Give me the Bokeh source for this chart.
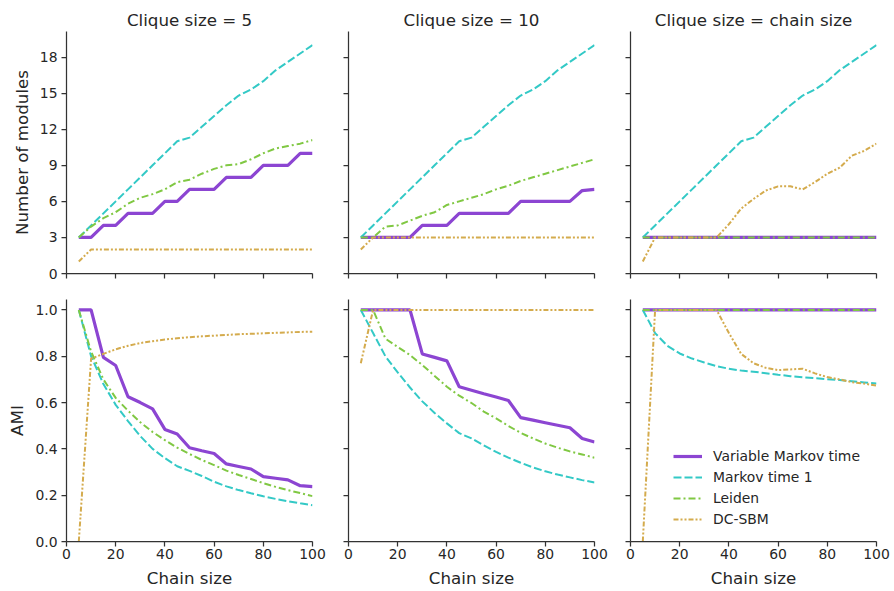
from bokeh.plotting import figure
from bokeh.layouts import column, row
from bokeh.models import Range1d, FixedTicker, PrintfTickFormatter, Legend, LegendItem
from bokeh.embed import file_html
from bokeh.resources import INLINE

# ---------------- data ----------------
chain_size = [5, 10, 15, 20, 25, 30, 35, 40, 45, 50, 55, 60, 65, 70, 75, 80, 85, 90, 95, 100]

titles = ["Clique size = 5", "Clique size = 10", "Clique size = chain size"]
series_names = ["Variable Markov time", "Markov time 1", "Leiden", "DC-SBM"]

# Number of modules
vmt_mod_5 = [3, 3, 4, 4, 5, 5, 5, 6, 6, 7, 7, 7, 8, 8, 8, 9, 9, 9, 10, 10]
mt1_mod_5 = [3, 4, 5, 6, 7, 8, 9, 10, 11, 11.3, 12.2, 13.1, 14, 14.8, 15.3, 16, 16.9, 17.6, 18.3, 19]
leiden_mod_5 = [3, 3.9, 4.6, 5.1, 5.8, 6.3, 6.6, 7.0, 7.6, 7.8, 8.3, 8.7, 9.0, 9.1, 9.5, 10.0, 10.4, 10.6, 10.8, 11.1]
dcsbm_mod_5 = [1, 2, 2, 2, 2, 2, 2, 2, 2, 2, 2, 2, 2, 2, 2, 2, 2, 2, 2, 2]

vmt_mod_10 = [3, 3, 3, 3, 3, 4, 4, 4, 5, 5, 5, 5, 5, 6, 6, 6, 6, 6, 6.9, 7]
mt1_mod_10 = [3, 4, 5, 6, 7, 8, 9, 10, 11, 11.3, 12.2, 13.1, 14, 14.8, 15.3, 16, 16.9, 17.6, 18.3, 19]
leiden_mod_10 = [3, 3, 3.9, 4.0, 4.4, 4.8, 5.1, 5.7, 6.0, 6.3, 6.6, 7.0, 7.3, 7.7, 8.0, 8.3, 8.6, 8.9, 9.2, 9.5]
dcsbm_mod_10 = [2, 3, 3, 3, 3, 3, 3, 3, 3, 3, 3, 3, 3, 3, 3, 3, 3, 3, 3, 3]

vmt_mod_c = [3] * 20
mt1_mod_c = [3, 4, 5, 6, 7, 8, 9, 10, 11, 11.3, 12.2, 13.1, 14, 14.8, 15.3, 16, 16.9, 17.6, 18.3, 19]
leiden_mod_c = [3] * 20
dcsbm_mod_c = [1, 3, 3, 3, 3, 3, 3, 4.1, 5.4, 6.2, 6.9, 7.25, 7.25, 7.0, 7.6, 8.3, 8.8, 9.8, 10.2, 10.8]

# AMI
vmt_ami_5 = [1.0, 1.0, 0.795, 0.76, 0.625, 0.6, 0.573, 0.484, 0.464, 0.405, 0.392, 0.38, 0.335, 0.324, 0.313, 0.28, 0.273, 0.266, 0.241, 0.237]
mt1_ami_5 = [1.0, 0.80, 0.68, 0.59, 0.52, 0.455, 0.40, 0.36, 0.325, 0.305, 0.283, 0.258, 0.238, 0.222, 0.208, 0.195, 0.184, 0.174, 0.165, 0.157]
leiden_ami_5 = [1.0, 0.82, 0.70, 0.62, 0.565, 0.515, 0.473, 0.438, 0.405, 0.378, 0.352, 0.33, 0.306, 0.287, 0.27, 0.252, 0.236, 0.222, 0.209, 0.196]
dcsbm_ami_5 = [0.0, 0.79, 0.81, 0.83, 0.845, 0.857, 0.865, 0.872, 0.878, 0.882, 0.886, 0.889, 0.892, 0.895, 0.897, 0.899, 0.901, 0.903, 0.905, 0.906]

vmt_ami_10 = [1, 1, 1, 1, 1, 0.81, 0.795, 0.78, 0.668, 0.653, 0.638, 0.624, 0.609, 0.535, 0.524, 0.513, 0.502, 0.491, 0.445, 0.43]
mt1_ami_10 = [1, 0.90, 0.80, 0.73, 0.665, 0.605, 0.555, 0.51, 0.468, 0.445, 0.415, 0.387, 0.362, 0.34, 0.32, 0.303, 0.289, 0.277, 0.265, 0.255]
leiden_ami_10 = [1, 1, 0.876, 0.84, 0.805, 0.762, 0.715, 0.668, 0.63, 0.598, 0.561, 0.532, 0.499, 0.469, 0.445, 0.423, 0.405, 0.389, 0.376, 0.362]
dcsbm_ami_10 = [0.77, 1, 1, 1, 1, 1, 1, 1, 1, 1, 1, 1, 1, 1, 1, 1, 1, 1, 1, 1]

vmt_ami_c = [1.0] * 20
mt1_ami_c = [1, 0.90, 0.845, 0.812, 0.79, 0.773, 0.757, 0.746, 0.738, 0.733, 0.727, 0.72, 0.714, 0.709, 0.705, 0.701, 0.697, 0.692, 0.687, 0.682]
leiden_ami_c = [1.0] * 20
dcsbm_ami_c = [0.0, 1, 1, 1, 1, 1, 1, 0.90, 0.81, 0.77, 0.75, 0.74, 0.743, 0.746, 0.726, 0.71, 0.70, 0.688, 0.682, 0.673]

mod_ticks = [0, 3, 6, 9, 12, 15, 18]
ami_ticks = [0.0, 0.2, 0.4, 0.6, 0.8, 1.0]
x_ticks = [0, 20, 40, 60, 80, 100]

# ---------------- style ----------------
FONT = "DejaVu Sans"
TXT = "#262626"
SPINE = "#333333"
colors = ["#8c45d2", "#33c9c6", "#80c843", "#d4ab4d"]
widths = [3.2, 2.0, 2.0, 2.0]
dashes = ["solid", "8 3", "7 3 2 3", "5 2 2 2 2 2"]

FW = 246
FH = 242


def make_panel(col, top, series, title=None, ylabel=None):
    left = 66 if col == 0 else 22
    right = 14
    if top:
        mt, mb = 31, 26
    else:
        mt, mb = 0, 50
    p = figure(width=left + FW + right, height=mt + FH + mb,
               output_backend="svg", toolbar_location=None,
               x_range=Range1d(0, 100),
               y_range=Range1d(0, 20.13) if top else Range1d(0, 1.045),
               min_border_left=left, min_border_right=right,
               min_border_top=mt, min_border_bottom=mb)
    p.outline_line_color = None
    p.grid.visible = False
    p.background_fill_color = "white"
    p.border_fill_color = "white"

    renderers = []
    for ys, c, w, d in zip(series, colors, widths, dashes):
        r = p.line(chain_size, ys, line_color=c, line_width=w, line_dash=d)
        renderers.append(r)

    for ax in (p.xaxis[0], p.yaxis[0]):
        ax.axis_line_color = SPINE
        ax.axis_line_width = 1.25
        ax.major_tick_line_color = SPINE
        ax.major_tick_line_width = 1.25
        ax.major_tick_out = 5
        ax.major_tick_in = 0
        ax.minor_tick_line_color = None
        ax.major_label_text_font = FONT
        ax.major_label_text_font_size = "13.9px"
        ax.major_label_text_color = TXT
        ax.axis_label_text_font = FONT
        ax.axis_label_text_font_size = "16.7px"
        ax.axis_label_text_font_style = "normal"
        ax.axis_label_text_color = TXT

    p.xaxis.ticker = FixedTicker(ticks=x_ticks)
    p.yaxis.ticker = FixedTicker(ticks=mod_ticks if top else ami_ticks)
    if not top:
        p.yaxis.formatter = PrintfTickFormatter(format="%.1f")
        p.xaxis.axis_label = "Chain size"
        p.xaxis.major_label_standoff = 2
        p.xaxis.axis_label_standoff = 6
    else:
        # ticks only, no labels (shared x axis)
        p.xaxis.major_label_overrides = {t: "" for t in x_ticks}
        p.xaxis.major_label_text_color = None
        p.xaxis.major_label_standoff = 0
    if col != 0:
        # ticks only, no labels (shared y axis)
        p.yaxis.major_label_overrides = {t: "" for t in (mod_ticks if top else ami_ticks)}
        p.yaxis.major_label_text_color = None
        p.yaxis.major_label_standoff = 0
    else:
        p.yaxis.major_label_standoff = 4
        p.yaxis.axis_label = ylabel
        p.yaxis.axis_label_standoff = 5

    if title:
        p.title.text = title
        p.title.text_font = FONT
        p.title.text_font_size = "16.7px"
        p.title.text_font_style = "normal"
        p.title.text_color = TXT
        p.title.align = "center"
        p.title.standoff = 3
    return p, renderers


p1, _ = make_panel(0, True, [vmt_mod_5, mt1_mod_5, leiden_mod_5, dcsbm_mod_5], titles[0], "Number of modules")
p2, _ = make_panel(1, True, [vmt_mod_10, mt1_mod_10, leiden_mod_10, dcsbm_mod_10], titles[1])
p3, _ = make_panel(2, True, [vmt_mod_c, mt1_mod_c, leiden_mod_c, dcsbm_mod_c], titles[2])
p4, _ = make_panel(0, False, [vmt_ami_5, mt1_ami_5, leiden_ami_5, dcsbm_ami_5], ylabel="AMI")
p5, _ = make_panel(1, False, [vmt_ami_10, mt1_ami_10, leiden_ami_10, dcsbm_ami_10])
p6, rs = make_panel(2, False, [vmt_ami_c, mt1_ami_c, leiden_ami_c, dcsbm_ami_c])

legend = Legend(items=[LegendItem(label=n, renderers=[r]) for n, r in zip(series_names, rs)],
                location=(43, 12), padding=0, margin=0, spacing=1,
                glyph_width=29, glyph_height=20, label_height=20, label_standoff=11,
                label_text_font=FONT, label_text_font_size="13.9px", label_text_color=TXT,
                border_line_color=None, background_fill_alpha=0)
p6.add_layout(legend, "center")

layout = column(row(p1, p2, p3), row(p4, p5, p6))
open("out.html", "w").write(file_html(layout, INLINE))
